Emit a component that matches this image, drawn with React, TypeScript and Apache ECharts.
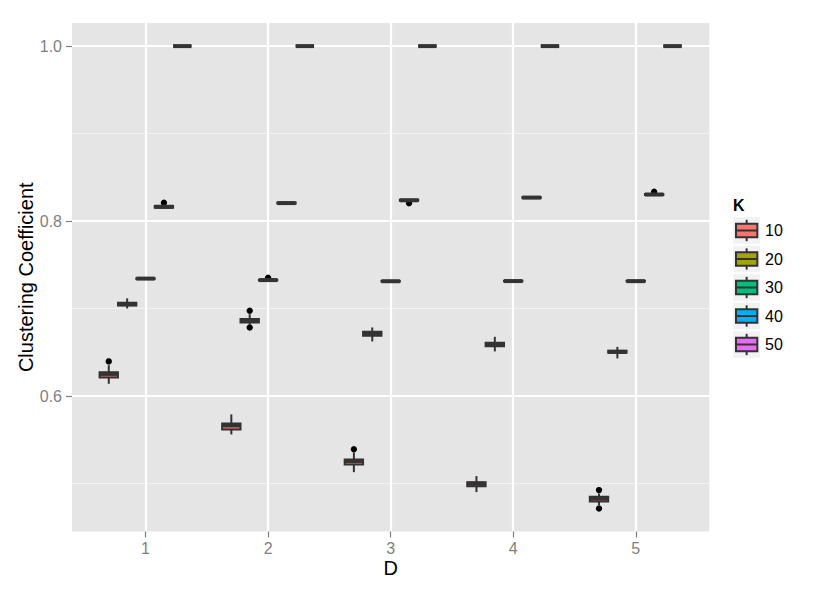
import React, { useEffect, useRef } from "react";
import * as echarts from "echarts";

// ---- data ----
const D_VALUES = [1, 2, 3, 4, 5];
const K_LEVELS = ["10", "20", "30", "40", "50"];
const K_COLORS = ["#F8766D", "#A3A500", "#00BF7D", "#00B0F6", "#E76BF3"];

// per D: [lower whisker, Q1, median, Q3, upper whisker]
const STATS_K10 = [
  [0.6141, 0.6214, 0.6254, 0.6274, 0.6354],
  [0.5562, 0.5619, 0.5666, 0.5688, 0.5791],
  [0.5131, 0.5219, 0.5259, 0.5277, 0.5357],
  [0.4903, 0.4971, 0.5, 0.5017, 0.5086],
  [0.4754, 0.4797, 0.4829, 0.4849, 0.4886],
];
const STATS_K20 = [
  [0.7002, 0.7037, 0.7051, 0.7066, 0.7117],
  [0.6811, 0.6842, 0.6862, 0.688, 0.6937],
  [0.6625, 0.6689, 0.6712, 0.6735, 0.6785],
  [0.6511, 0.6571, 0.6591, 0.6609, 0.6678],
  [0.6431, 0.6495, 0.6506, 0.6518, 0.6563],
];
const STATS_K30 = [
  [0.7336, 0.7339, 0.7343, 0.7347, 0.735],
  [0.7316, 0.7322, 0.7326, 0.733, 0.7336],
  [0.7305, 0.7309, 0.7313, 0.7317, 0.7321],
  [0.7307, 0.7311, 0.7315, 0.7319, 0.7323],
  [0.7306, 0.731, 0.7314, 0.7318, 0.7322],
];
const STATS_K40 = [
  [0.8145, 0.8153, 0.8163, 0.8174, 0.8185],
  [0.8196, 0.8201, 0.8206, 0.8212, 0.8218],
  [0.8225, 0.8232, 0.8238, 0.8245, 0.8253],
  [0.8257, 0.8263, 0.8269, 0.8275, 0.8283],
  [0.8292, 0.8298, 0.8304, 0.831, 0.8318],
];
const STATS_K50 = [
  [1, 1, 1, 1, 1],
  [1, 1, 1, 1, 1],
  [1, 1, 1, 1, 1],
  [1, 1, 1, 1, 1],
  [1, 1, 1, 1, 1],
];
// outliers: [D, value]
const OUT_K10 = [[1, 0.6397], [3, 0.5394], [5, 0.4926], [5, 0.4717]];
const OUT_K20 = [[2, 0.6975], [2, 0.6785]];
const OUT_K30 = [[2, 0.7352]];
const OUT_K40 = [[1, 0.8209], [3, 0.8205], [5, 0.8335]];
const OUT_K50: number[][] = [];

const BOX_STATS = [STATS_K10, STATS_K20, STATS_K30, STATS_K40, STATS_K50];
const OUTLIERS = [OUT_K10, OUT_K20, OUT_K30, OUT_K40, OUT_K50];

const Y_MAJOR_TICKS = [0.6, 0.8, 1.0];
const Y_MINOR_TICKS = [0.5, 0.7, 0.9];
const X_TICKS = D_VALUES;

// ---- layout / style ----
const Y_MIN = 0.4453;
const Y_MAX = 1.0264;
const X_MIN = 0.4;
const X_MAX = 5.6;
const DODGE = 0.15;
const FONT = '"Liberation Sans", Arial, Helvetica, sans-serif';
const DARK = "#333333";
const GREY50 = "#7F7F7F";

const KEY_LEFT = 733.3;
const KEY_SIZE = 26.7;
const KEY_STEP = 28.5;
const KEY_FIRST_CENTER = 230.5;

function legendGraphics() {
  const els: any[] = [
    {
      type: "text",
      x: 733,
      y: 205,
      silent: true,
      style: {
        text: "K",
        fill: "#000",
        font: `bold 16px ${FONT}`,
        align: "left",
        verticalAlign: "middle",
        textAlign: "left",
        textVerticalAlign: "middle",
      },
    },
  ];
  K_LEVELS.forEach((k, i) => {
    const cy = KEY_FIRST_CENTER + i * KEY_STEP;
    const top = cy - KEY_SIZE / 2;
    const cx = KEY_LEFT + KEY_SIZE / 2;
    const bx0 = KEY_LEFT + KEY_SIZE * 0.1;
    const bx1 = KEY_LEFT + KEY_SIZE * 0.9;
    els.push({
      type: "rect",
      silent: true,
      shape: { x: KEY_LEFT, y: top, width: KEY_SIZE, height: KEY_SIZE },
      style: { fill: "#F2F2F2" },
    });
    els.push({
      type: "line",
      silent: true,
      shape: { x1: cx, y1: top + KEY_SIZE * 0.1, x2: cx, y2: top + KEY_SIZE * 0.9 },
      style: { stroke: DARK, lineWidth: 2 },
    });
    els.push({
      type: "rect",
      silent: true,
      shape: { x: bx0, y: top + KEY_SIZE * 0.25, width: bx1 - bx0, height: KEY_SIZE * 0.5 },
      style: { fill: K_COLORS[i], stroke: DARK, lineWidth: 2 },
    });
    els.push({
      type: "line",
      silent: true,
      shape: { x1: bx0, y1: cy, x2: bx1, y2: cy },
      style: { stroke: DARK, lineWidth: 2 },
    });
    els.push({
      type: "text",
      x: 765,
      y: cy,
      silent: true,
      style: {
        text: k,
        fill: "#000",
        font: `16px ${FONT}`,
        align: "left",
        verticalAlign: "middle",
        textAlign: "left",
        textVerticalAlign: "middle",
      },
    });
  });
  return els;
}

export default function App() {
  const ref = useRef<HTMLDivElement>(null);

  useEffect(() => {
    const chart = echarts.init(ref.current!, null, { renderer: "svg" });
    const nK = K_LEVELS.length;

    const boxSeries = K_LEVELS.map((k, ki) => ({
      type: "custom",
      name: k,
      z: 3,
      silent: true,
      encode: { x: 0, y: [1, 2, 3, 4, 5] },
      data: BOX_STATS[ki].map((s, di) => [D_VALUES[di], ...s]),
      renderItem: (params: any, api: any) => {
        const d = api.value(0);
        const slot = api.size([DODGE, 0])[0];
        const cx = api.coord([d, api.value(3)])[0] + (ki - (nK - 1) / 2) * slot;
        const y = (i: number) => api.coord([d, api.value(i)])[1];
        const yLow = y(1);
        const yQ1 = y(2);
        const yMed = y(3);
        const yQ3 = y(4);
        const yHigh = y(5);
        const w = slot;
        return {
          type: "group",
          children: [
            { type: "line", shape: { x1: cx, y1: yHigh, x2: cx, y2: yQ3 }, style: { stroke: DARK, lineWidth: 2 } },
            { type: "line", shape: { x1: cx, y1: yQ1, x2: cx, y2: yLow }, style: { stroke: DARK, lineWidth: 2 } },
            {
              type: "rect",
              shape: { x: cx - w / 2, y: yQ3, width: w, height: Math.max(yQ1 - yQ3, 0) },
              style: { fill: K_COLORS[ki], stroke: DARK, lineWidth: 2 },
            },
            {
              type: "line",
              shape: { x1: cx - w / 2, y1: yMed, x2: cx + w / 2, y2: yMed },
              style: { stroke: DARK, lineWidth: 4 },
            },
          ],
        };
      },
    }));

    const outlierSeries = K_LEVELS.map((k, ki) => ({
      type: "custom",
      name: k + " outliers",
      z: 2,
      silent: true,
      encode: { x: 0, y: 1 },
      data: OUTLIERS[ki],
      renderItem: (params: any, api: any) => {
        const d = api.value(0);
        const slot = api.size([DODGE, 0])[0];
        const p = api.coord([d, api.value(1)]);
        return {
          type: "circle",
          shape: { cx: p[0] + (ki - (nK - 1) / 2) * slot, cy: p[1], r: 3.2 },
          style: { fill: "#000" },
        };
      },
    }));

    chart.setOption({
      animation: false,
      backgroundColor: "#FFFFFF",
      textStyle: { fontFamily: FONT },
      grid: {
        left: 72,
        right: 120.7,
        top: 23,
        bottom: 61.5,
        show: true,
        backgroundColor: "#E5E5E5",
        borderWidth: 0,
      },
      xAxis: {
        type: "value",
        min: X_MIN,
        max: X_MAX,
        name: "D",
        nameLocation: "middle",
        nameGap: 26,
        nameMoveOverlap: false,
        nameTextStyle: { color: "#000", fontSize: 20, fontFamily: FONT },
        axisLine: { show: false },
        axisTick: { show: true, customValues: X_TICKS, length: 6, lineStyle: { color: GREY50, width: 1.2 } },
        axisLabel: { customValues: X_TICKS, color: GREY50, fontSize: 16, margin: 9, fontFamily: FONT },
        splitLine: { show: true, lineStyle: { color: "#FFFFFF", width: 2.2 } },
      },
      yAxis: [
        {
          type: "value",
          min: Y_MIN,
          max: Y_MAX,
          name: "Clustering Coefficient",
          nameLocation: "middle",
          nameRotate: 90,
          nameGap: 36,
          nameMoveOverlap: false,
          nameTextStyle: { color: "#000", fontSize: 20, fontFamily: FONT },
          axisLine: { show: false },
          axisTick: { show: true, customValues: Y_MAJOR_TICKS, length: 6, lineStyle: { color: GREY50, width: 1.2 } },
          axisLabel: {
            customValues: Y_MAJOR_TICKS,
            color: GREY50,
            fontSize: 16,
            margin: 10,
            fontFamily: FONT,
            formatter: (v: number) => v.toFixed(1),
          },
          splitLine: { show: true, lineStyle: { color: "#FFFFFF", width: 2.2 } },
          z: 1,
        },
        {
          type: "value",
          min: Y_MIN,
          max: Y_MAX,
          position: "left",
          axisLine: { show: false },
          axisTick: { show: false, customValues: Y_MINOR_TICKS },
          axisLabel: { show: false, customValues: Y_MINOR_TICKS },
          splitLine: { show: true, lineStyle: { color: "#F2F2F2", width: 1.2 } },
          z: 0,
        },
      ],
      graphic: legendGraphics(),
      series: [...outlierSeries, ...boxSeries],
    });

    return () => chart.dispose();
  }, []);

  return (
    <div
      ref={ref}
      style={{ position: "fixed", left: 0, top: 0, width: 830, height: 593, background: "#fff" }}
    />
  );
}
